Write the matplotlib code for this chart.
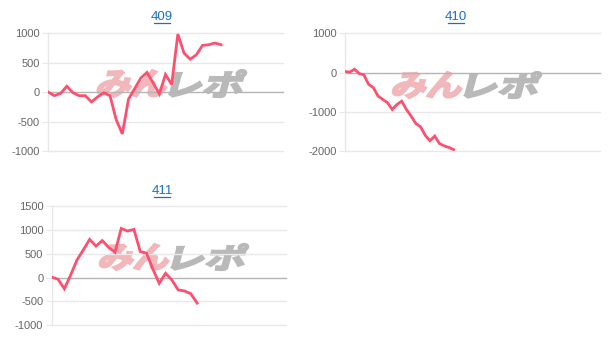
import matplotlib
matplotlib.use("Agg")
import matplotlib.pyplot as plt
from matplotlib.textpath import TextPath
from matplotlib.font_manager import FontProperties
from matplotlib.patches import PathPatch
from matplotlib.transforms import Affine2D
from matplotlib.lines import Line2D

# --- data ---
titles = ["409", "410", "411"]

values_409 = [0, -60, -20, 100, -10, -60, -60, -165, -80, -10, -60, -465, -710,
              -120, 60, 240, 335, 155, -30, 300, 130, 985, 665, 560, 635, 795,
              805, 835, 805]
values_410 = [25, 10, 85, -25, -60, -300, -385, -600, -685, -770, -940, -815,
              -730, -940, -1110, -1300, -1385, -1600, -1740, -1620, -1810,
              -1870, -1910, -1965]
values_411 = [10, -35, -235, 55, 370, 580, 800, 660, 775, 635, 530, 1030, 975,
              1010, 545, 510, 175, -120, 90, -50, -260, -280, -340, -535]

slots = [39, 55, 38]          # number of x positions on each axis
y_ticks = [
    [-1000, -500, 0, 500, 1000],
    [-2000, -1000, 0, 1000],
    [-1000, -500, 0, 500, 1000, 1500],
]

W, H = 609, 340
LINE_COLOR = "#ff4f6e"
GRID = "#e8e8e8"
ZERO = "#b5b5b5"
TICK = "#666666"
TITLE_BLUE = "#1a70c8"

plt.rcParams['font.family'] = ['Liberation Sans', 'DejaVu Sans']

fig = plt.figure(figsize=(W / 100, H / 100), dpi=100)
fig.patch.set_facecolor("white")

# axes boxes in pixels: left, right, top, bottom
boxes = [
    (48.3, 282.7, 33.3, 151.0),
    (345.0, 600.0, 33.3, 151.0),
    (51.7, 285.7, 206.0, 325.3),
]
title_pos = [(162, 16.5), (455.5, 16.5), (162, 190.5)]
mark_pos = [(103, 70, 97), (398, 72, 98), (105, 244, 270)]

series = [values_409, values_410, values_411]


def watermark(x0, top, bottom):
    fp = FontProperties(family="Noto Sans CJK JP", weight="bold")
    h = bottom - top
    parts = [("みん", "#f1b7ba", x0, 68), ("レポ", "#b9b9b9", x0 + 73, 71)]
    for txt, col, px, w in parts:
        path = TextPath((0, 0), txt, size=100, prop=fp)
        bb = path.get_extents()
        tr = (Affine2D()
              .translate(-bb.x0, -bb.y0)
              .scale(w / bb.width, h / bb.height)
              .skew_deg(15, 0)
              .translate(px - h * 0.27, H - bottom)
              .scale(1 / W, 1 / H))
        patch = PathPatch(tr.transform_path(path), facecolor=col,
                          edgecolor=col, linewidth=1.6,
                          transform=fig.transFigure, zorder=-1)
        fig.add_artist(patch)


for i, vals in enumerate(series):
    l, r, t, b = boxes[i]
    ax = fig.add_axes([l / W, (H - b) / H, (r - l) / W, (b - t) / H])
    ax.set_facecolor("none")
    xs = list(range(len(vals)))
    ax.plot(xs, vals, color=LINE_COLOR, linewidth=2.0, solid_joinstyle="miter",
            zorder=3)
    ax.set_xlim(0, slots[i] - 1)
    ax.set_ylim(y_ticks[i][0], y_ticks[i][-1])
    ax.set_yticks(y_ticks[i])
    ax.set_yticklabels([str(v) for v in y_ticks[i]])
    ax.set_xticks([])
    for v in y_ticks[i]:
        ax.axhline(v, color=ZERO if v == 0 else GRID, linewidth=1.0, zorder=1,
                   clip_on=False)
    for s in ["top", "right", "bottom"]:
        ax.spines[s].set_visible(False)
    ax.spines["left"].set_color(GRID)
    ax.spines["left"].set_linewidth(1.0)
    ax.tick_params(axis="y", length=4, color=GRID, labelcolor=TICK,
                   labelsize=8, pad=2)

    tx, ty = title_pos[i]
    fig.text(tx / W, 1 - ty / H, titles[i], color=TITLE_BLUE, fontsize=9.5,
             ha="center", va="center")
    fig.add_artist(Line2D([(tx - 8) / W, (tx + 8) / W],
                          [1 - (ty + 6.3) / H, 1 - (ty + 6.3) / H],
                          color=TITLE_BLUE, linewidth=0.9))

    watermark(*mark_pos[i])

fig.savefig("out.png", dpi=100, facecolor="white")
